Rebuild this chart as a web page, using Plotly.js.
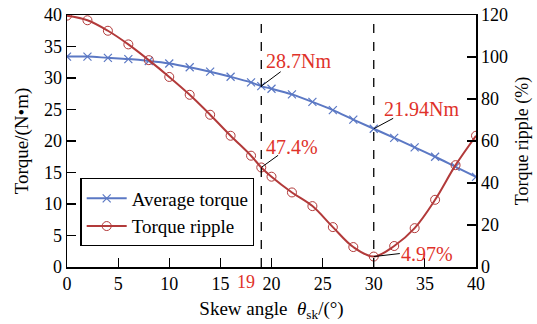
<!DOCTYPE html>
<html><head><meta charset="utf-8">
<script src="https://cdn.plot.ly/plotly-3.0.1.min.js"></script>
<style>html,body{margin:0;padding:0;background:#fff}#c{width:537px;height:324px}</style>
</head><body><div id="c"></div>
<script>
const skew = [0,2,4,6,8,10,12,14,16,18,19,20,22,24,26,28,30,32,34,36,38,40];
const avgTorque = [33.4,33.4,33.2,33.0,32.7,32.3,31.7,31.0,30.2,29.3,28.7,28.3,27.4,26.2,24.9,23.4,21.94,20.5,19.0,17.5,15.9,14.3];
const torqueRipple = [119.7,117.5,112.5,106,98.5,90.5,82,72.5,62.5,53,47.4,43,35.5,29,19,9.5,4.97,10,18.5,32,48.5,62.5];
const markAngles = [19, 30];
const seriesNames = ['Average torque', 'Torque ripple'];

const F = 'Liberation Serif';
const RED = '#e0322a';
const BLUE = '#5b78c4';
const DRED = '#b23a3a';

const traces = [
  {x: skew, y: avgTorque, name: seriesNames[0], type: 'scatter', mode: 'lines+markers',
   line: {color: BLUE, width: 2, shape: 'spline'},
   marker: {symbol: 'x-thin', size: 8, line: {color: BLUE, width: 1.2}, color: BLUE}},
  {x: skew, y: torqueRipple, name: seriesNames[1], type: 'scatter', mode: 'lines+markers', yaxis: 'y2',
   line: {color: DRED, width: 2, shape: 'spline'},
   marker: {symbol: 'circle-open', size: 9, line: {color: DRED, width: 1}, color: DRED}}
];

const i19 = skew.indexOf(19), i30 = skew.indexOf(30);
const shapes = markAngles.map(a => ({type: 'line', xref: 'x', yref: 'paper', x0: a, x1: a, y0: 0, y1: 1,
  line: {color: '#000', width: 1.3, dash: 'dash'}}));
shapes.push({type:'line', xref:'x', yref:'y', x0: 19, y0: avgTorque[i19], x1: 20.9, y1: 31.0, line:{color:'#000', width:1}});
shapes.push({type:'line', xref:'x', yref:'y2', x0: 19, y0: torqueRipple[i19], x1: 20.65, y1: 53.2, line:{color:'#000', width:1}});
shapes.push({type:'line', xref:'x', yref:'y', x0: 30, y0: avgTorque[i30], x1: 31.9, y1: 23.6, line:{color:'#000', width:1}});
shapes.push({type:'line', xref:'x', yref:'y2', x0: 30, y0: torqueRipple[i30], x1: 32.55, y1: 6.4, line:{color:'#000', width:1}});

const af = {family: F, size: 20, color: RED};
const annotations = [
  {x: 19.25, y: 32.7, xref:'x', yref:'y', text: avgTorque[i19] + 'Nm', showarrow:false, xanchor:'left', yanchor:'middle', font: af},
  {x: 19.25, y: 57.2, xref:'x', yref:'y2', text: torqueRipple[i19] + '%', showarrow:false, xanchor:'left', yanchor:'middle', font: af},
  {x: 30.8, y: 25.1, xref:'x', yref:'y', text: avgTorque[i30] + 'Nm', showarrow:false, xanchor:'left', yanchor:'middle', font: af},
  {x: 32.5, y: 6.0, xref:'x', yref:'y2', text: torqueRipple[i30] + '%', showarrow:false, xanchor:'left', yanchor:'middle', font: af},
  {x: 19, y: 0, xref:'x', yref:'paper', text: '19', showarrow:false, xanchor:'right', yanchor:'top', xshift: -4, yshift: -3,
   font: {family: F, size: 18, color: RED}}
];

const axisCommon = {showline: true, linecolor: '#000', linewidth: 1.5, ticks: 'inside', ticklen: 9, tickwidth: 1.2,
  tickcolor: '#000', showgrid: false, zeroline: false, tickfont: {family: F, size: 18, color: '#000'}};

const layout = {
  width: 537, height: 324,
  margin: {l: 67, r: 61, t: 15, b: 57},
  paper_bgcolor: '#fff', plot_bgcolor: '#fff',
  font: {family: F, color: '#000'},
  showlegend: true,
  legend: {x: 0.033, y: 0.352, xanchor: 'left', yanchor: 'top', bgcolor: '#fff', bordercolor: '#000', borderwidth: 1.2,
    font: {family: F, size: 19, color: '#000'}, itemwidth: 40, tracegroupgap: 0},
  xaxis: Object.assign({}, axisCommon, {range: [0, 40], tickvals: [0,5,10,15,20,25,30,35,40], mirror: true,
    title: {text: 'Skew angle  <i>θ</i><sub>sk</sub>/(°)', font: {family: F, size: 19}, standoff: 8}}),
  yaxis: Object.assign({}, axisCommon, {range: [0, 40], dtick: 5,
    title: {text: 'Torque/(N•m)', font: {family: F, size: 19}, standoff: 10}}),
  yaxis2: Object.assign({}, axisCommon, {range: [0, 120], dtick: 20, overlaying: 'y', side: 'right',
    title: {text: 'Torque ripple (%)', font: {family: F, size: 18}, standoff: 8}}),
  shapes: shapes,
  annotations: annotations
};

Plotly.newPlot('c', traces, layout, {staticPlot: true});
</script></body></html>
